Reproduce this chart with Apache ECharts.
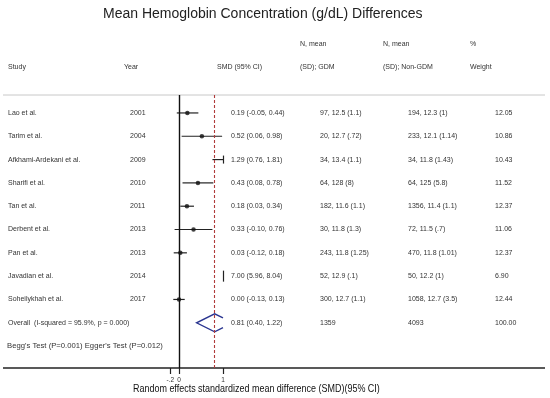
<!DOCTYPE html>
<html><head><meta charset="utf-8">
<script src="https://cdn.jsdelivr.net/npm/echarts@6/dist/echarts.min.js"></script>
<style>html,body{margin:0;padding:0;background:#fff}#c{width:550px;height:398px}</style>
</head><body><div id="c"></div>
<script>
var studies = ['Lao et al.', 'Tarim et al.', 'Afkhami-Ardekani et al.', 'Sharifi et al.', 'Tan et al.', 'Derbent et al.', 'Pan et al.', 'Javadian et al.', 'Soheilykhah et al.'];
var years = ['2001', '2004', '2009', '2010', '2011', '2013', '2013', '2014', '2017'];
var smd = [0.19, 0.52, 1.29, 0.43, 0.18, 0.33, 0.03, 7.00, 0.00];
var ciLow = [-0.05, 0.06, 0.76, 0.08, 0.03, -0.10, -0.12, 5.96, -0.13];
var ciHigh = [0.44, 0.98, 1.81, 0.78, 0.34, 0.76, 0.18, 8.04, 0.13];
var gdm = ['97, 12.5 (1.1)', '20, 12.7 (.72)', '34, 13.4 (1.1)', '64, 128 (8)', '182, 11.6 (1.1)', '30, 11.8 (1.3)', '243, 11.8 (1.25)', '52, 12.9 (.1)', '300, 12.7 (1.1)'];
var nonGdm = ['194, 12.3 (1)', '233, 12.1 (1.14)', '34, 11.8 (1.43)', '64, 125 (5.8)', '1356, 11.4 (1.1)', '72, 11.5 (.7)', '470, 11.8 (1.01)', '50, 12.2 (1)', '1058, 12.7 (3.5)'];
var weights = ['12.05', '10.86', '10.43', '11.52', '12.37', '11.06', '12.37', '6.90', '12.44'];
var overall = {label: 'Overall  (I-squared = 95.9%, p = 0.000)', smd: 0.81, lo: 0.40, hi: 1.22, gdm: '1359', nonGdm: '4093', weight: '100.00'};
var testsText = "Begg's Test (P=0.001) Egger's Test (P=0.012)";
var xTicks = [-0.2, 0, 1];
var xMin = -0.2, xMax = 1;

var FONT = 'Liberation Sans, Arial, sans-serif';
var TXT = '#333';
var colX = {study: 8, year: 130, smd: 231, gdm: 320, non: 408, w: 495};

var chart = echarts.init(document.getElementById('c'), null, {renderer: 'canvas'});

var rows = studies.map(function (s, i) { return [smd[i], i]; });
var textRows = studies.map(function (s, i) {
  return {value: [0, i], t: [s, years[i], smd[i].toFixed(2) + ' (' + ciLow[i].toFixed(2) + ', ' + ciHigh[i].toFixed(2) + ')', gdm[i], nonGdm[i], weights[i]]};
});
textRows.push({value: [0, studies.length], t: [overall.label, '', overall.smd.toFixed(2) + ' (' + overall.lo.toFixed(2) + ', ' + overall.hi.toFixed(2) + ')', overall.gdm, overall.nonGdm, overall.weight]});

function txt(x, y, s, size) {
  return {type: 'text', x: x, y: y, style: {text: s, fill: TXT, font: (size || 7) + 'px ' + FONT, textVerticalAlign: 'middle', textAlign: 'left'}};
}

chart.setOption({
  animation: false,
  title: {text: 'Mean Hemoglobin Concentration (g/dL) Differences', left: 98, top: 2,
    textStyle: {fontFamily: FONT, fontSize: 14, fontWeight: 'normal', color: '#222'}},
  grid: {left: 170.2, width: 52.8, top: 95, height: 273, containLabel: false},
  xAxis: {type: 'value', min: xMin, max: xMax, position: 'bottom', splitLine: {show: false},
    axisLine: {show: false, onZero: false},
    axisTick: {show: true, customValues: xTicks, length: 6, lineStyle: {color: '#222', width: 1.2}},
    axisLabel: {customValues: xTicks, fontSize: 6.5, color: '#333', fontFamily: FONT, margin: 9,
      formatter: function (v) { return v === -0.2 ? '-.2' : String(v); }}},
  yAxis: {type: 'value', inverse: true, min: -0.77, max: 10.94, show: false},
  series: [
    {
      type: 'custom', name: 'ci', data: rows.map(function (r, i) { return [ciLow[i], ciHigh[i], i]; }),
      renderItem: function (params, api) {
        var lo = api.value(0), hi = api.value(1), row = api.value(2);
        var a = Math.max(lo, xMin), b = Math.min(hi, xMax);
        var children = [];
        var y = api.coord([0, row])[1];
        if (a < b) {
          var p1 = api.coord([a, row]), p2 = api.coord([b, row]);
          children.push({type: 'line', shape: {x1: p1[0], y1: y, x2: p2[0], y2: y}, style: {stroke: '#222', lineWidth: 1.2}});
        }
        if (hi > xMax) {
          var xe = api.coord([xMax, row])[0] + 0.5;
          var h = lo > xMax ? 5.5 : 4;
          children.push({type: 'line', shape: {x1: xe, y1: y - h, x2: xe, y2: y + h}, style: {stroke: '#222', lineWidth: 1.2}});
        }
        return {type: 'group', children: children};
      }
    },
    {
      type: 'scatter', name: 'smd', data: rows.filter(function (r) { return r[0] >= xMin && r[0] <= xMax; }),
      symbol: 'circle', symbolSize: 4.5, itemStyle: {color: '#111'}, clip: true, silent: true,
      markLine: {
        silent: true, symbol: 'none', label: {show: false},
        data: [
          {xAxis: 0, lineStyle: {color: '#111', width: 1.4, type: 'solid'}},
          {xAxis: overall.smd, lineStyle: {color: '#b03a3a', width: 1.1, type: [3, 2]}}
        ]
      }
    },
    {
      type: 'custom', name: 'overall', data: [[overall.lo, overall.smd, overall.hi, studies.length]],
      renderItem: function (params, api) {
        var lo = api.value(0), mid = api.value(1), hi = api.value(2), row = api.value(3);
        var pl = api.coord([lo, row]), pm = api.coord([mid, row]), ph = api.coord([hi, row]);
        var hh = 9, y = pl[1];
        var xr = api.coord([xMax, row])[0];
        var cx = Math.min(ph[0], xr);
        var dy = hh * (ph[0] - cx) / (ph[0] - pm[0]);
        var pts = [[cx, y - dy], [pm[0], y - hh], [pl[0], y], [pm[0], y + hh], [cx, y + dy]];
        return {type: 'polyline', shape: {points: pts}, style: {stroke: '#2a3590', lineWidth: 1.4, fill: null}};
      }
    },
    {
      type: 'custom', name: 'text', data: textRows, clip: false,
      renderItem: function (params, api) {
        var it = textRows[params.dataIndex];
        var y = api.coord([0, api.value(1)])[1];
        var c = [];
        var xs = [colX.study, colX.year, colX.smd, colX.gdm, colX.non, colX.w];
        it.t.forEach(function (s, k) { if (s) c.push(txt(xs[k], y, s, 7)); });
        return {type: 'group', children: c};
      }
    },
    {
      type: 'custom', name: 'tests', data: [[0, studies.length + 1]], clip: false,
      renderItem: function (params, api) {
        var y = api.coord([0, api.value(1)])[1];
        return txt(7, y, testsText, 7.7);
      }
    }
  ],
  graphic: [
    {type: 'line', shape: {x1: 3, y1: 95, x2: 545, y2: 95}, style: {stroke: '#c8c8c8', lineWidth: 1}},
    {type: 'line', shape: {x1: 3, y1: 368, x2: 545, y2: 368}, style: {stroke: '#222', lineWidth: 1.3}},
    txt(300, 44, 'N, mean'), txt(383, 44, 'N, mean'), txt(470, 44, '%'),
    txt(8, 67, 'Study'), txt(124, 67, 'Year'), txt(217, 67, 'SMD (95% CI)'),
    txt(300, 67, '(SD); GDM'), txt(383, 67, '(SD); Non-GDM'), txt(470, 67, 'Weight'),
    {type: 'text', x: 133, y: 389, scaleX: 0.815, style: {text: 'Random effects standardized mean difference (SMD)(95% CI)', fill: '#111', font: '11px ' + FONT, textVerticalAlign: 'middle'}}
  ]
});
</script></body></html>
